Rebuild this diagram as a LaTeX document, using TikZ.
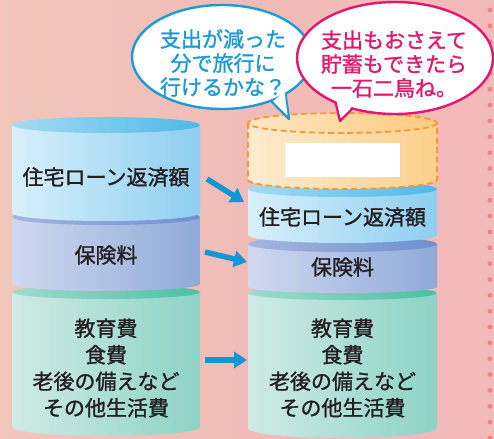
\documentclass[tikz,border=0pt]{standalone}
\usepackage{fontspec}
\setmainfont{Noto Sans CJK JP}[FakeBold=1.3]
\usetikzlibrary{arrows.meta}
\definecolor{bgL}{HTML}{F1C6BB}
\definecolor{bgM}{HTML}{F1BCB7}
\definecolor{bgR}{HTML}{F4B9BA}
\definecolor{dotc}{HTML}{EF8282}
\definecolor{bluL}{HTML}{D8F0FB}
\definecolor{bluR}{HTML}{8ECEF0}
\definecolor{bluTL}{HTML}{A4DBF4}
\definecolor{bluTR}{HTML}{4DB9E8}
\definecolor{purL}{HTML}{D0D9EF}
\definecolor{purR}{HTML}{8FAAD9}
\definecolor{purTL}{HTML}{A3B6DF}
\definecolor{purTR}{HTML}{6E8FCF}
\definecolor{grnL}{HTML}{D0EBE6}
\definecolor{grnR}{HTML}{8DD3C5}
\definecolor{grnTL}{HTML}{A0DBCC}
\definecolor{grnTR}{HTML}{4CC0A6}
\definecolor{orgL}{HTML}{FEEBD0}
\definecolor{orgR}{HTML}{FDD08C}
\definecolor{orgTL}{HTML}{FEE6C4}
\definecolor{orgTR}{HTML}{FDCB7E}
\definecolor{orgline}{HTML}{F39A34}
\definecolor{arrc}{HTML}{1097D6}
\definecolor{bubB}{HTML}{1C9AD6}
\definecolor{bubP}{HTML}{E4176F}
\definecolor{ink}{HTML}{231F20}
% body: cx, rx, ytop, ybot, rybot, left, right
\newcommand\segbody[7]{\shade[left color=#6,right color=#7] (#1-#2,#3) -- (#1-#2,#4) arc[start angle=180,end angle=0,x radius=#2,y radius=#5] -- (#1+#2,#3) -- cycle;}
% top: cx, rx, cy, ry, left, right
\newcommand\segtop[6]{\shade[left color=#5,right color=#6] (#1,#3) ellipse [x radius=#2, y radius=#4];}
\begin{document}
\begin{tikzpicture}[x=1pt,y=-1pt,
  lbl/.style={font=\fontsize{21}{26.5}\selectfont, text=ink, align=center, inner sep=0pt},
  bubtxt/.style={font=\fontsize{21}{24}\selectfont, align=center, inner sep=0pt},
  arr/.style={draw=arrc, line width=5.5pt, -{Triangle[length=13pt,width=16pt]}},
  dotstyle/.style={fill=dotc}]
\useasboundingbox (0,0) rectangle (494,438);
\shade[left color=bgL, right color=bgR, middle color=bgM] (0,0) rectangle (494,438);
\foreach \i in {0,...,27} { \fill[dotstyle] (490,10+15.85*\i) circle[radius=2.4]; }

% ---- left cylinder
\segbody{106}{94}{292}{427}{9}{grnL}{grnR}
\segtop{106}{94}{292}{7}{grnTL}{grnTR}
\segbody{106}{94}{217}{284}{7}{purL}{purR}
\segtop{106}{94}{217}{8}{purTL}{purTR}
\segbody{106}{94}{125}{213}{8}{bluL}{bluR}
\segtop{106}{94}{125}{8}{bluTL}{bluTR}

% ---- right cylinder
\segbody{342.5}{94.5}{293}{428}{10}{grnL}{grnR}
\segtop{342.5}{94.5}{293}{7}{grnTL}{grnTR}
\segbody{342.5}{94.5}{244}{287}{6}{purL}{purR}
\segtop{342.5}{94.5}{244}{8}{purTL}{purTR}
\segbody{342.5}{94.5}{189}{235}{8}{bluL}{bluR}
\segtop{342.5}{94.5}{189}{8}{bluTL}{bluTR}
\segbody{342.5}{94.5}{123}{180}{9}{orgL}{orgR}
\segtop{342.5}{94.5}{123}{10}{orgTL}{orgTR}
\draw[orgline, line width=1.8pt, dash pattern=on 6pt off 3.5pt]
  (248,123) -- (248,180) arc[start angle=180,end angle=0,x radius=94.5,y radius=9] -- (437,123);
\draw[orgline, line width=1.8pt, dash pattern=on 6pt off 3.5pt]
  (342.5,123) ellipse [x radius=94.5, y radius=10];
\fill[white] (285,143) rectangle (400,177);

% ---- labels
\node[lbl] (l1) at (106,177) {住宅ローン返済額};
\node[lbl] (l2) at (106,255) {保険料};
\node[lbl] (l3) at (106,368) {教育費\\食費\\老後の備えなど\\その他生活費};
\node[lbl] (r1) at (342.5,217) {住宅ローン返済額};
\node[lbl] (r2) at (342.5,267) {保険料};
\node[lbl] (r3) at (342.5,368) {教育費\\食費\\老後の備えなど\\その他生活費};

% ---- arrows
\coordinate (a1s) at (207,179); \coordinate (a1e) at (244,202);
\coordinate (a2s) at (205,252); \coordinate (a2e) at (247,262);
\coordinate (a3s) at (205,360); \coordinate (a3e) at (247,360);
\draw[arr] (a1s) -- (a1e);
\draw[arr] (a2s) -- (a2e);
\draw[arr] (a3s) -- (a3e);

% ---- blue bubble
\draw[bubB, line width=2.4pt, fill=white, line join=round] (272,102) -- (289,119) -- (285,91) -- cycle;
\draw[bubB, line width=2.4pt, fill=white] (222,57) ellipse [x radius=90, y radius=52];
\fill[white] (273,101) -- (287.5,115) -- (284.5,92) -- cycle;
\node[bubtxt, text=bubB] (bb) at (223,63) {支出が減った\\分で旅行に\\行けるかな？};

% ---- pink bubble
\draw[bubP, line width=2.4pt, fill=white, line join=round] (335,100) -- (340,121) -- (356,105) -- cycle;
\draw[bubP, line width=2.4pt, fill=white] (395,58) ellipse [x radius=98, y radius=56];
\fill[white] (336.5,100) -- (340.5,117) -- (354,105) -- cycle;
\node[bubtxt, text=bubP] (pb) at (394,64) {支出もおさえて\\貯蓄もできたら\\一石二鳥ね。};
\end{tikzpicture}
\end{document}
